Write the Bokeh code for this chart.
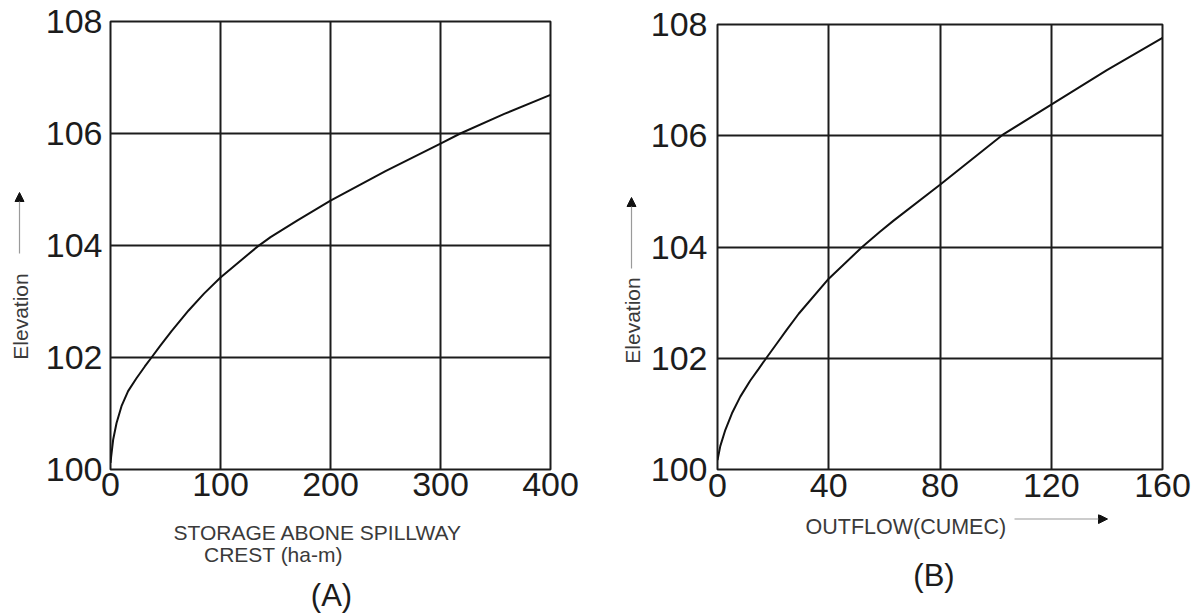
import math
from bokeh.plotting import figure
from bokeh.layouts import row, column
from bokeh.models import Range1d, FixedTicker, Arrow, NormalHead
from bokeh.core.properties import value
from bokeh.embed import file_html
from bokeh.resources import INLINE

# ---- data ----
storage_a = [0, 0.6, 2.4, 5.5, 10, 16, 23.6, 31.2, 37.3, 44.8, 55.5, 71, 85, 100, 133.6, 145.5,
             170, 200, 250, 300, 318, 358, 400]
elev_a = [100.12, 100.23, 100.53, 100.83, 101.13, 101.4, 101.63, 101.84, 102.0, 102.2, 102.47,
          102.84, 103.14, 103.43, 103.98, 104.15, 104.45, 104.8, 105.33, 105.82, 106.0, 106.35, 106.69]

outflow_b = [0, 1, 2.8, 5.2, 8.2, 11.8, 14.8, 17.5, 21.4, 25, 29.2, 40, 52, 58.3, 63.2, 80,
             102.9, 120, 140, 160]
elev_b = [100.17, 100.42, 100.71, 101.01, 101.31, 101.6, 101.81, 102.0, 102.27, 102.52, 102.8,
          103.43, 104.0, 104.27, 104.47, 105.12, 106.03, 106.56, 107.18, 107.76]

x_ticks_a = [0, 100, 200, 300, 400]
x_ticks_b = [0, 40, 80, 120, 160]
y_ticks = [100, 102, 104, 106, 108]

xlabel_a1 = "STORAGE ABONE SPILLWAY"
xlabel_a2 = "CREST (ha-m)"
xlabel_b = "OUTFLOW(CUMEC)"
ylabel = "Elevation"
panel_a = "(A)"
panel_b = "(B)"

FONT = "Liberation Sans"
INK = "#1c1c1c"
TXT = "#3a3a3a"
ARROW_LINE = "#9a9a9a"
H = 615


def make_panel(width, height, xr, xticks, bl, br, bt, bb, xstand, ystand):
    p = figure(width=width, height=height, output_backend="svg", toolbar_location=None,
               x_range=Range1d(*xr), y_range=Range1d(100, 108),
               min_border_left=bl, min_border_right=br, min_border_top=bt, min_border_bottom=bb)
    p.background_fill_color = "white"
    p.border_fill_color = "white"
    p.outline_line_color = INK
    p.outline_line_width = 2
    p.outline_line_alpha = 1.0
    p.xaxis.ticker = FixedTicker(ticks=xticks)
    p.yaxis.ticker = FixedTicker(ticks=y_ticks)
    p.xgrid.ticker = FixedTicker(ticks=xticks)
    p.ygrid.ticker = FixedTicker(ticks=y_ticks)
    for g in (p.xgrid, p.ygrid):
        g.grid_line_color = INK
        g.grid_line_width = 2
        g.grid_line_alpha = 1.0
    for ax in (p.xaxis, p.yaxis):
        ax.axis_line_color = None
        ax.major_tick_line_color = None
        ax.minor_tick_line_color = None
        ax.major_tick_in = 0
        ax.major_tick_out = 0
        ax.major_label_text_font = FONT
        ax.major_label_text_font_size = "34px"
        ax.major_label_text_color = INK
    p.xaxis.major_label_standoff = xstand
    p.yaxis.major_label_standoff = ystand
    return p


def text_panel(width, height, x0, x1, y0, y1, bl=0, br=0):
    # frame expressed in page pixels: x from left, y measured upward from page bottom
    t = figure(width=width, height=height, output_backend="svg", toolbar_location=None,
               x_range=Range1d(x0, x1), y_range=Range1d(y0, y1),
               x_axis_type=None, y_axis_type=None, min_border=0,
               min_border_left=bl, min_border_right=br, min_border_top=0, min_border_bottom=0)
    t.outline_line_color = None
    t.background_fill_color = "white"
    t.border_fill_color = "white"
    return t


def put_text(t, x, y_page, s, size, color, align="left", angle=0.0, baseline="alphabetic"):
    t.text(x=[x], y=[H - y_page], text=[s], angle=angle, text_align=align, text_baseline=baseline,
           text_font=value(FONT), text_font_size=size, text_color=color)


def put_arrow(t, x0, y0_page, x1, y1_page):
    t.add_layout(Arrow(end=NormalHead(size=9, fill_color="#111", line_color="#111"),
                       x_start=x0, y_start=H - y0_page, x_end=x1, y_end=H - y1_page,
                       line_color=ARROW_LINE, line_width=1.2))


H_PLOT = 514
H_BOTTOM = H - H_PLOT

# ---------- panel A ----------
left_a = text_panel(40, H, 0, 40, 0, H)
put_text(left_a, 20, 316, ylabel, "21px", TXT, align="center", angle=math.pi / 2, baseline="middle")
put_arrow(left_a, 19, 253, 19, 192)

pa = make_panel(560, H_PLOT, (0, 400), x_ticks_a, 70, 50, 21, 45, 3, 8)
pa.line(storage_a, elev_a, line_color="#111", line_width=2)

bottom_a = text_panel(560, H_BOTTOM, 110, 550, 0, H_BOTTOM, bl=70, br=50)
put_text(bottom_a, 173, 532, xlabel_a1, "21px", TXT)
put_text(bottom_a, 203.5, 554, xlabel_a2, "21px", TXT)
put_text(bottom_a, 331, 595, panel_a, "31px", INK, align="center")

# ---------- panel B ----------
left_b = text_panel(45, H, 600, 645, 0, H)
put_text(left_b, 631.5, 320, ylabel, "21px", TXT, align="center", angle=math.pi / 2, baseline="middle")
put_arrow(left_b, 631, 268, 631, 197)

pb = make_panel(551, H_PLOT, (0, 160), x_ticks_b, 72, 34, 24, 45, 4, 10)
pb.line(outflow_b, elev_b, line_color="#111", line_width=2)

bottom_b = text_panel(551, H_BOTTOM, 717, 1162, 0, H_BOTTOM, bl=72, br=34)
put_text(bottom_b, 805, 526, xlabel_b, "21.5px", TXT)
put_arrow(bottom_b, 1014, 518.5, 1107, 518.5)
put_text(bottom_b, 933.5, 575, panel_b, "31px", INK, align="center")

layout = row(left_a, column(pa, bottom_a, spacing=0), left_b, column(pb, bottom_b, spacing=0),
             spacing=0)
open("out.html", "w").write(file_html(layout, INLINE))
